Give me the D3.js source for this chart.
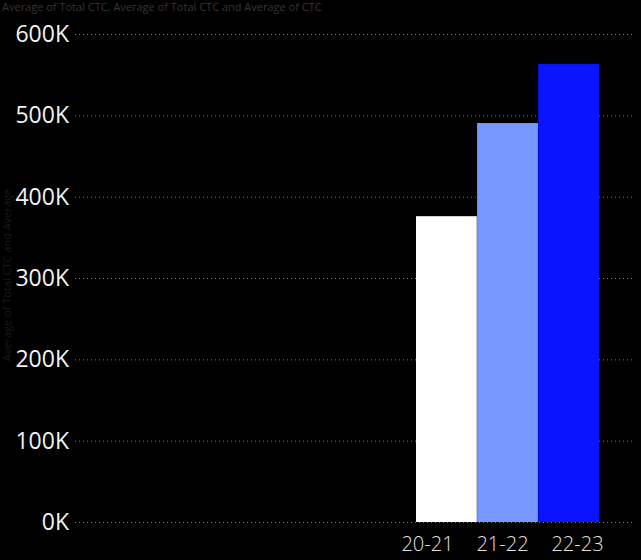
<!DOCTYPE html>
<html>
<head>
<meta charset="utf-8">
<script src="https://cdn.jsdelivr.net/npm/d3@7"></script>
<style>
  body { margin: 0; background: #000; }
  text { font-family: "Open Sans", "Noto Sans", sans-serif; }
</style>
</head>
<body>
<div id="chart"></div>
<script>
// data
const years = ["20-21", "21-22", "22-23"];
const avgCTC = [376000, 490500, 563000];
const barColors = ["#ffffff", "#7597ff", "#0a14ff"];
const yTicks = [0, 100000, 200000, 300000, 400000, 500000, 600000];

const W = 641, H = 560;
const margin = {top: 34, right: 6, bottom: 38, left: 75};

const svg = d3.select("#chart").append("svg")
    .attr("width", W).attr("height", H)
    .style("background", "#000");

// y scale
const y = d3.scaleLinear()
    .domain([0, 600000])
    .range([H - margin.bottom, margin.top]);

// bars sit at the right end of the plot
const x = d3.scaleBand()
    .domain(years)
    .range([416, 599])
    .paddingInner(0.005)
    .paddingOuter(0);

// category labels are spread a bit wider than the bars
const xLab = d3.scaleBand()
    .domain(years)
    .range([390, 615]);

// gridlines + labels
const yAxis = svg.append("g")
    .attr("transform", `translate(${margin.left},0)`)
    .call(d3.axisLeft(y)
      .tickValues(yTicks)
      .tickSize(-(W - margin.left - margin.right))
      .tickFormat(d => (d / 1000) + "K"));
yAxis.select(".domain").remove();
yAxis.selectAll(".tick line")
    .attr("stroke", "#777")
    .attr("stroke-width", 1)
    .attr("stroke-dasharray", "1,3");
yAxis.selectAll(".tick text")
    .attr("fill", "#f2f2f2")
    .attr("font-size", 23)
    .attr("x", -6);

// bars
svg.append("g")
  .selectAll("rect")
  .data(avgCTC)
  .join("rect")
    .attr("x", (d, i) => x(years[i]))
    .attr("width", x.bandwidth())
    .attr("y", d => y(d))
    .attr("height", d => y(0) - y(d))
    .attr("fill", (d, i) => barColors[i]);

// x axis labels
const xAxis = svg.append("g")
    .attr("transform", `translate(0,${H - margin.bottom})`)
    .call(d3.axisBottom(xLab).tickSize(0).tickPadding(15));
xAxis.select(".domain").remove();
xAxis.selectAll(".tick text")
    .attr("fill", "#e0e0e0")
    .attr("font-size", 20)
    .attr("font-weight", 300);

// faint title
svg.append("text")
    .attr("x", 2)
    .attr("y", 11)
    .attr("fill", "#353535")
    .attr("font-size", 11)
    .text("Average of Total CTC, Average of Total CTC and Average of CTC");

// faint y-axis title
svg.append("text")
    .attr("transform", "translate(11,275) rotate(-90)")
    .attr("text-anchor", "middle")
    .attr("fill", "#191919")
    .attr("font-size", 11)
    .text("Average of Total CTC and Average");
</script>
</body>
</html>
